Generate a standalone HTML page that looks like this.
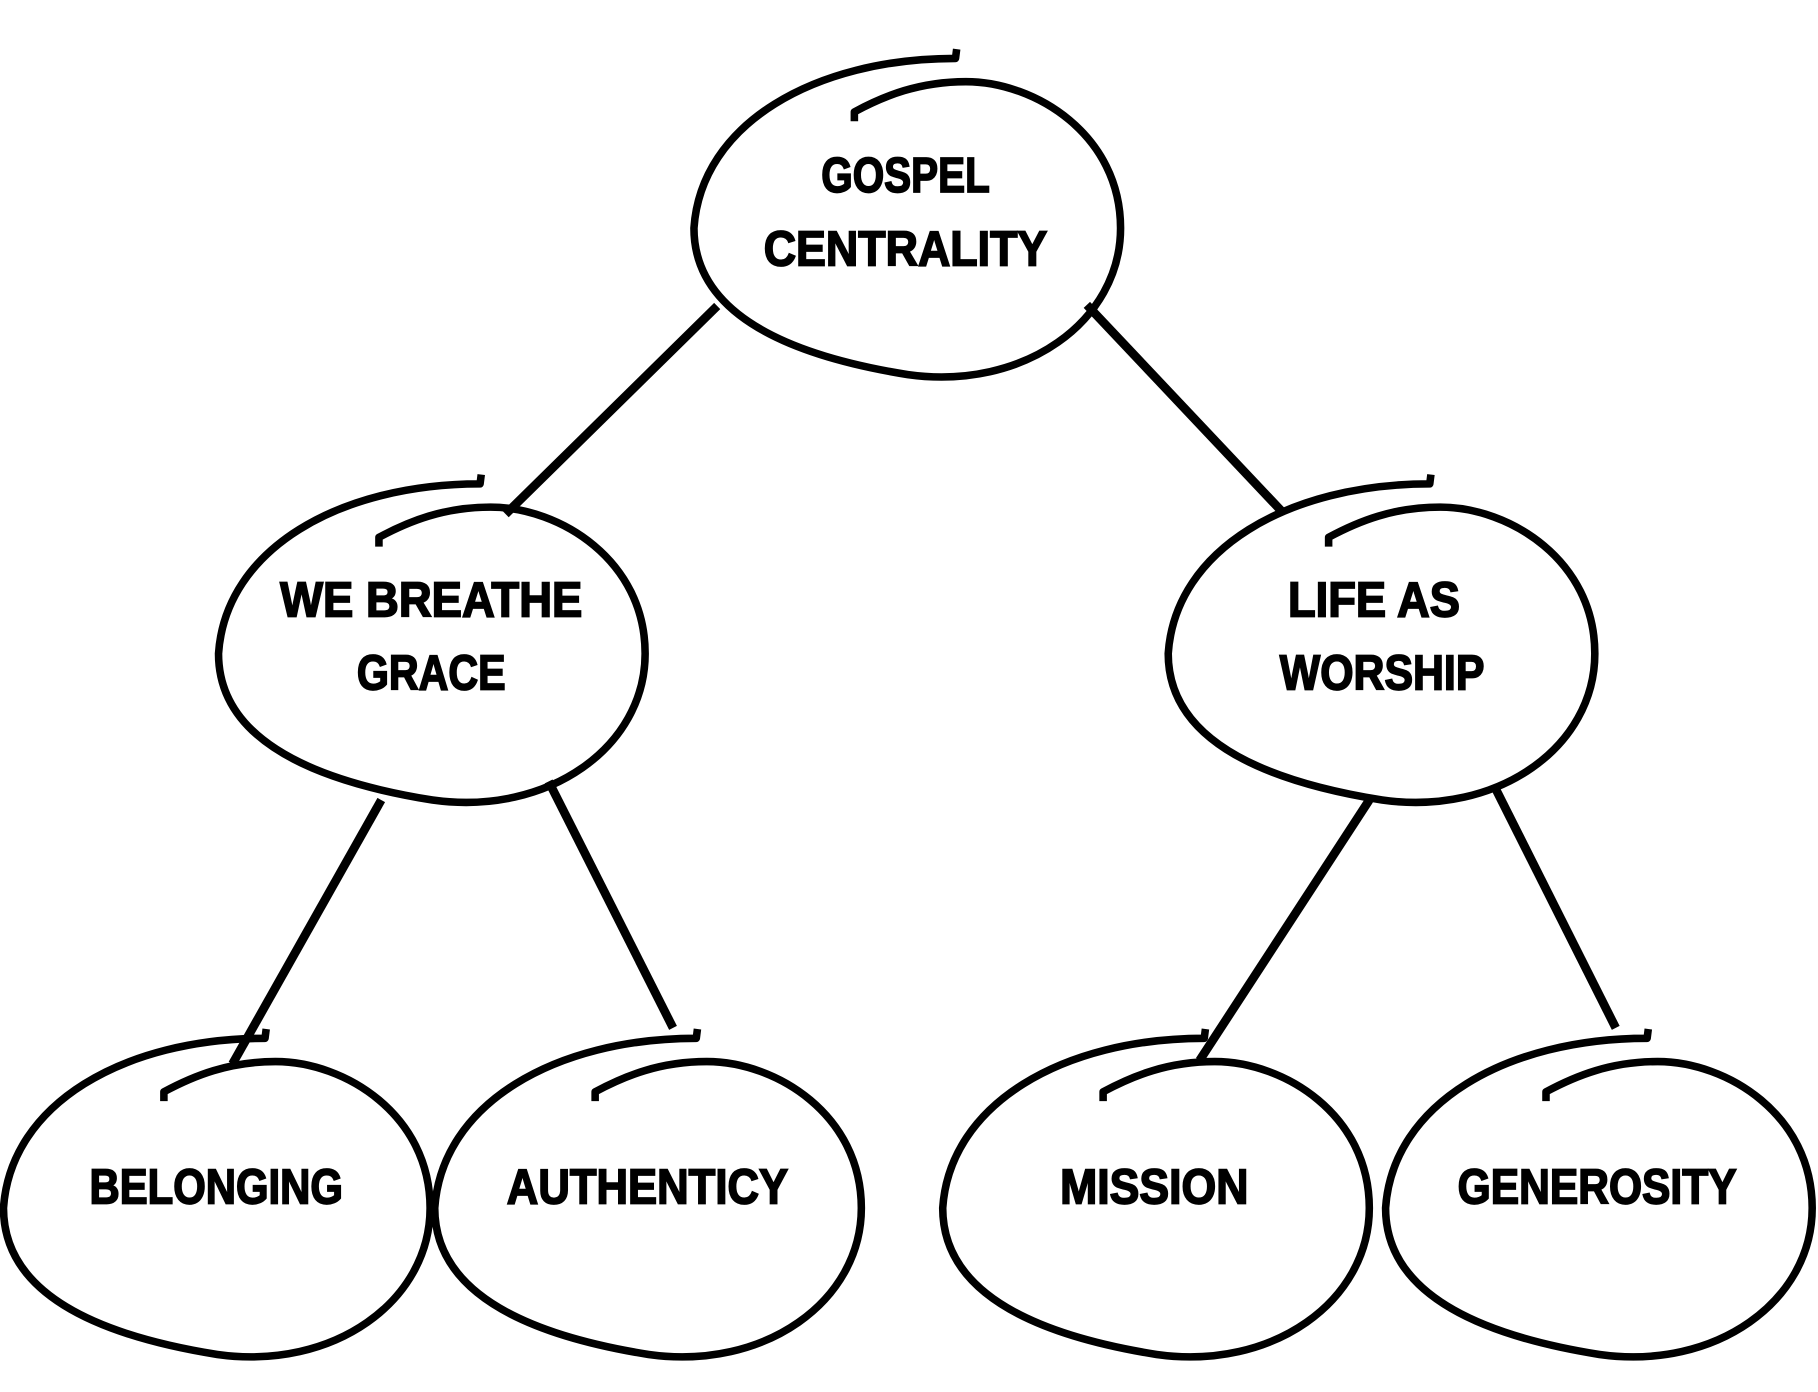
<!DOCTYPE html>
<html><head><meta charset="utf-8"><style>html,body{margin:0;padding:0;background:#fff}svg{display:block}</style></head>
<body>
<svg width="1818" height="1392" viewBox="0 0 1564 1197" xmlns="http://www.w3.org/2000/svg">
<defs>
<g id="node">
  <path d="M42,-154 L41,-146 C-80,-146 -178,-90 -184,0 C-184,75 -100,110 0,126 C100,140 183,80 183,0 C183,-80 110,-126 50,-126 C10,-126 -20,-114 -46,-100 L-46,-92" fill="none" stroke="#000" stroke-width="6.5" stroke-linejoin="round"/>
</g>
</defs>
<g stroke="#000" stroke-width="7.5" stroke-linecap="butt">
  <line x1="617" y1="263" x2="435" y2="442"/>
  <line x1="935" y1="262" x2="1103" y2="440"/>
  <line x1="328" y1="688" x2="200" y2="915"/>
  <line x1="472" y1="672" x2="579" y2="884"/>
  <line x1="1178" y1="688" x2="1032" y2="912"/>
  <line x1="1285" y1="675" x2="1390" y2="884"/>
</g>
<use href="#node" x="781" y="196"/>
<use href="#node" x="372" y="562"/>
<use href="#node" x="1189" y="562"/>
<use href="#node" x="187" y="1039"/>
<use href="#node" x="558" y="1039"/>
<use href="#node" x="995" y="1039"/>
<use href="#node" x="1376" y="1039"/>
<g font-family="'Liberation Sans Narrow','Liberation Sans',sans-serif" font-weight="bold" font-size="42" fill="#000" stroke="#000" stroke-width="1.5" text-anchor="middle">
  <text x="779" y="165" textLength="145" lengthAdjust="spacingAndGlyphs">GOSPEL</text>
  <text x="779" y="228" textLength="244" lengthAdjust="spacingAndGlyphs">CENTRALITY</text>
  <text x="371" y="530" textLength="260" lengthAdjust="spacingAndGlyphs">WE BREATHE</text>
  <text x="371" y="593" textLength="128" lengthAdjust="spacingAndGlyphs">GRACE</text>
  <text x="1182" y="530" textLength="148" lengthAdjust="spacingAndGlyphs">LIFE AS</text>
  <text x="1189" y="593" textLength="176" lengthAdjust="spacingAndGlyphs">WORSHIP</text>
  <text x="186" y="1035" textLength="218" lengthAdjust="spacingAndGlyphs">BELONGING</text>
  <text x="557" y="1035" textLength="242" lengthAdjust="spacingAndGlyphs">AUTHENTICY</text>
  <text x="993" y="1035" textLength="162" lengthAdjust="spacingAndGlyphs">MISSION</text>
  <text x="1374" y="1035" textLength="240" lengthAdjust="spacingAndGlyphs">GENEROSITY</text>
</g>
</svg>
</body></html>
